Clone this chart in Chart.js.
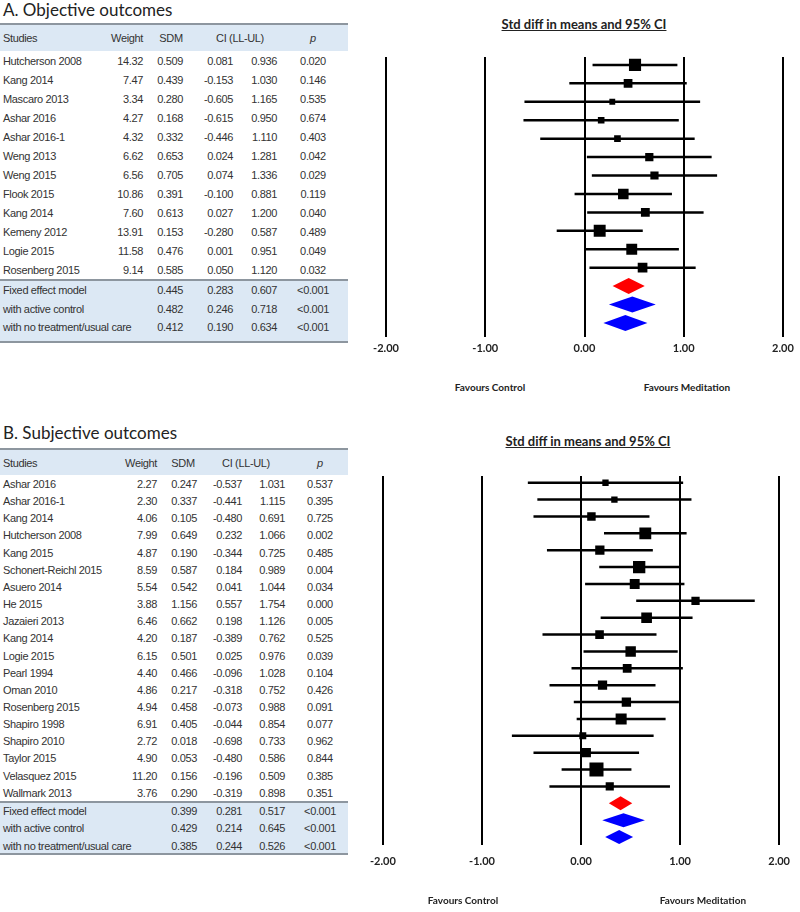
<!DOCTYPE html>
<html>
<head>
<meta charset="utf-8">
<script src="https://cdn.jsdelivr.net/npm/chart.js@4.4.1/dist/chart.umd.min.js"></script>
<style>
  body { margin: 0; background: #fff; }
  #page { position: relative; width: 800px; height: 912px; overflow: hidden; font-family: "Liberation Sans", Arial, sans-serif; }
  .t { position: absolute; white-space: nowrap; }
  .panel-title { font-family: Lato, "Noto Sans", sans-serif; font-size: 17px; color: #222; }
  .cell { font-size: 11px; color: #333; letter-spacing: -0.35px; }
  .band { position: absolute; left: 0; width: 348px; background: #dce8f4; }
  .rule { position: absolute; left: 0; width: 348px; height: 2px; background: #8d969f; }
  .plot-title { font-family: Lato, sans-serif; font-weight: bold; font-size: 13px; color: #222; text-decoration: underline; }
  .favours { font-family: Lato, sans-serif; font-weight: bold; font-size: 10px; color: #222; }
  canvas { position: absolute; }
</style>
</head>
<body>
<div id="page">
  <canvas id="chartA" width="440" height="330" style="left:360px;top:45px"></canvas>
  <canvas id="chartB" width="440" height="440" style="left:360px;top:460px"></canvas>
</div>
<script>
// ---- A. Objective outcomes ----
const studiesA = ['Hutcherson 2008', 'Kang 2014', 'Mascaro 2013', 'Ashar 2016', 'Ashar 2016-1', 'Weng 2013',
  'Weng 2015', 'Flook 2015', 'Kang 2014', 'Kemeny 2012', 'Logie 2015', 'Rosenberg 2015'];
const weightA = [14.32, 7.47, 3.34, 4.27, 4.32, 6.62, 6.56, 10.86, 7.60, 13.91, 11.58, 9.14];
const sdmA = [0.509, 0.439, 0.280, 0.168, 0.332, 0.653, 0.705, 0.391, 0.613, 0.153, 0.476, 0.585];
const llA = [0.081, -0.153, -0.605, -0.615, -0.446, 0.024, 0.074, -0.100, 0.027, -0.280, 0.001, 0.050];
const ulA = [0.936, 1.030, 1.165, 0.950, 1.110, 1.281, 1.336, 0.881, 1.200, 0.587, 0.951, 1.120];
const pA = ['0.020', '0.146', '0.535', '0.674', '0.403', '0.042', '0.029', '0.119', '0.040', '0.489', '0.049', '0.032'];

const summaryLabels = ['Fixed effect model', 'with active control', 'with no treatment/usual care'];
const sumSdmA = [0.445, 0.482, 0.412];
const sumLlA = [0.283, 0.246, 0.190];
const sumUlA = [0.607, 0.718, 0.634];
const sumPA = ['<0.001', '<0.001', '<0.001'];

// ---- B. Subjective outcomes ----
const studiesB = ['Ashar 2016', 'Ashar 2016-1', 'Kang 2014', 'Hutcherson 2008', 'Kang 2015', 'Schonert-Reichl 2015',
  'Asuero 2014', 'He 2015', 'Jazaieri 2013', 'Kang 2014', 'Logie 2015', 'Pearl 1994', 'Oman 2010',
  'Rosenberg 2015', 'Shapiro 1998', 'Shapiro 2010', 'Taylor 2015', 'Velasquez 2015', 'Wallmark 2013'];
const weightB = [2.27, 2.30, 4.06, 7.99, 4.87, 8.59, 5.54, 3.88, 6.46, 4.20, 6.15, 4.40, 4.86, 4.94, 6.91, 2.72, 4.90, 11.20, 3.76];
const sdmB = [0.247, 0.337, 0.105, 0.649, 0.190, 0.587, 0.542, 1.156, 0.662, 0.187, 0.501, 0.466, 0.217, 0.458, 0.405, 0.018, 0.053, 0.156, 0.290];
const llB = [-0.537, -0.441, -0.480, 0.232, -0.344, 0.184, 0.041, 0.557, 0.198, -0.389, 0.025, -0.096, -0.318, -0.073, -0.044, -0.698, -0.480, -0.196, -0.319];
const ulB = [1.031, 1.115, 0.691, 1.066, 0.725, 0.989, 1.044, 1.754, 1.126, 0.762, 0.976, 1.028, 0.752, 0.988, 0.854, 0.733, 0.586, 0.509, 0.898];
const pB = ['0.537', '0.395', '0.725', '0.002', '0.485', '0.004', '0.034', '0.000', '0.005', '0.525', '0.039', '0.104', '0.426',
  '0.091', '0.077', '0.962', '0.844', '0.385', '0.351'];

const sumSdmB = [0.399, 0.429, 0.385];
const sumLlB = [0.281, 0.214, 0.244];
const sumUlB = [0.517, 0.645, 0.526];
const sumPB = ['<0.001', '<0.001', '<0.001'];

const xTicks = [-2, -1, 0, 1, 2];
const summaryColors = ['#ff0000', '#0000ff', '#0000ff'];

const page = document.getElementById('page');

// place a text at (x, y) with y as the vertical centre
function text(str, x, y, cls, align, extra) {
  const d = document.createElement('div');
  d.className = 't ' + cls;
  d.textContent = str;
  const tx = align === 'right' ? '-100%' : align === 'center' ? '-50%' : '0';
  d.style.left = x + 'px';
  d.style.top = y + 'px';
  d.style.transform = `translate(${tx}, -50%)`;
  if (extra) Object.assign(d.style, extra);
  page.appendChild(d);
  return d;
}

function box(cls, top, height) {
  const d = document.createElement('div');
  d.className = cls;
  d.style.top = top + 'px';
  if (height != null) d.style.height = height + 'px';
  page.appendChild(d);
}

function buildTable(t, d) {
  text(t.title, 3, t.titleY, 'panel-title', 'left');
  box('band', t.headerTop, t.headerBottom - t.headerTop);
  box('rule', t.headerTop);
  const hy = (t.headerTop + t.headerBottom) / 2 + 1;
  text('Studies', 3, hy, 'cell', 'left');
  text('Weight', t.cols.weight, hy, 'cell', 'right');
  text('SDM', t.cols.sdmHead, hy, 'cell', 'center');
  text('CI (LL-UL)', t.cols.ciHead, hy, 'cell', 'center');
  text('p', t.cols.p, hy, 'cell', 'center', { fontStyle: 'italic' });

  d.studies.forEach((s, i) => {
    const y = t.rowStart + i * t.rowStep;
    text(s, 3, y, 'cell', 'left');
    text(d.weight[i].toFixed(2), t.cols.weight, y, 'cell', 'right');
    text(d.sdm[i].toFixed(3), t.cols.sdm, y, 'cell', 'right');
    text(d.ll[i].toFixed(3), t.cols.ll, y, 'cell', 'right');
    text(d.ul[i].toFixed(3), t.cols.ul, y, 'cell', 'right');
    text(d.p[i], t.cols.p, y, 'cell', 'center');
  });

  box('band', t.sumTop, t.sumBottom - t.sumTop);
  box('rule', t.sumTop);
  box('rule', t.sumBottom - 2);
  summaryLabels.forEach((s, j) => {
    const y = t.sumRowStart + j * t.sumStep;
    text(s, 3, y, 'cell', 'left');
    text(d.sumSdm[j].toFixed(3), t.cols.sdm, y, 'cell', 'right');
    text(d.sumLl[j].toFixed(3), t.cols.ll, y, 'cell', 'right');
    text(d.sumUl[j].toFixed(3), t.cols.ul, y, 'cell', 'right');
    text(d.sumP[j], t.cols.p, y, 'cell', 'center');
  });

  text('Std diff in means and 95% CI', t.plotTitleX, t.plotTitleY, 'plot-title', 'center');
  text('Favours Control', t.favCtrlX, t.favY, 'favours', 'center');
  text('Favours Meditation', t.favMedX, t.favY, 'favours', 'center');
}

// summary diamonds drawn through the chart's own scales
function diamondPlugin(d, firstRow, half) {
  return {
    id: 'diamonds',
    afterDatasetsDraw(chart) {
      const { ctx, scales: { x, y } } = chart;
      d.sumSdm.forEach((v, j) => {
        const cy = y.getPixelForValue(firstRow + j);
        ctx.save();
        ctx.beginPath();
        ctx.moveTo(x.getPixelForValue(d.sumLl[j]), cy);
        ctx.lineTo(x.getPixelForValue(v), cy - half);
        ctx.lineTo(x.getPixelForValue(d.sumUl[j]), cy);
        ctx.lineTo(x.getPixelForValue(v), cy + half);
        ctx.closePath();
        ctx.fillStyle = summaryColors[j];
        ctx.fill();
        ctx.restore();
      });
    }
  };
}

function forestChart(id, d, o) {
  const n = d.studies.length;
  const ciSets = d.sdm.map((_, i) => ({
    data: [{ x: d.ll[i], y: i }, { x: d.ul[i], y: i }],
    showLine: true,
    borderColor: '#000',
    borderWidth: 2.5,
    pointRadius: 0
  }));
  const squares = {
    data: d.sdm.map((v, i) => ({ x: v, y: i })),
    pointStyle: 'rect',
    pointRadius: d.weight.map(w => o.squareScale * Math.sqrt(w) / Math.SQRT2),
    backgroundColor: '#000',
    borderWidth: 0
  };

  return new Chart(document.getElementById(id), {
    type: 'scatter',
    data: { datasets: [...ciSets, squares] },
    options: {
      responsive: false,
      animation: false,
      layout: { padding: o.padding },
      plugins: { legend: { display: false }, tooltip: { enabled: false } },
      scales: {
        x: {
          type: 'linear',
          min: xTicks[0],
          max: xTicks[xTicks.length - 1],
          afterBuildTicks: scale => { scale.ticks = xTicks.map(v => ({ value: v })); },
          ticks: {
            padding: o.tickPad,
            color: '#222',
            font: { family: 'Lato', weight: 'bold', size: 11 },
            callback: v => v.toFixed(2)
          },
          grid: { color: '#000', lineWidth: 2, drawTicks: false },
          border: { display: false }
        },
        y: {
          type: 'linear',
          display: false,
          reverse: true,
          min: o.yMin,
          max: n + 2 + o.yMaxExtra
        }
      }
    },
    plugins: [diamondPlugin(d, n, o.half)]
  });
}

const dataA = { studies: studiesA, weight: weightA, sdm: sdmA, ll: llA, ul: ulA, p: pA,
  sumSdm: sumSdmA, sumLl: sumLlA, sumUl: sumUlA, sumP: sumPA };
const dataB = { studies: studiesB, weight: weightB, sdm: sdmB, ll: llB, ul: ulB, p: pB,
  sumSdm: sumSdmB, sumLl: sumLlB, sumUl: sumUlB, sumP: sumPB };

buildTable({
  title: 'A. Objective outcomes', titleY: 9,
  headerTop: 23, headerBottom: 51, rowStart: 61, rowStep: 19,
  sumTop: 279, sumBottom: 343, sumRowStart: 290, sumStep: 18.7,
  cols: { weight: 143, sdm: 183, sdmHead: 171, ll: 233, ul: 277, ciHead: 240, p: 313 },
  plotTitleX: 584, plotTitleY: 24, favCtrlX: 490, favMedX: 687, favY: 387
}, dataA);

buildTable({
  title: 'B. Subjective outcomes', titleY: 432,
  headerTop: 448, headerBottom: 475, rowStart: 484, rowStep: 17.15,
  sumTop: 801, sumBottom: 855, sumRowStart: 810.5, sumStep: 17.7,
  cols: { weight: 157, sdm: 197, sdmHead: 183, ll: 242, ul: 285, ciHead: 246, p: 320 },
  plotTitleX: 588, plotTitleY: 441, favCtrlX: 463, favMedX: 703, favY: 900
}, dataB);

forestChart('chartA', dataA, {
  squareScale: 3.2, half: 8, tickPad: 5, yMin: -0.43, yMaxExtra: 0.75,
  padding: { top: 12, left: 26, right: 17, bottom: 15 }
});

forestChart('chartB', dataB, {
  squareScale: 4.2, half: 7, tickPad: 10, yMin: -0.4, yMaxExtra: 0.46,
  padding: { top: 16, left: 21, right: 18, bottom: 22 }
});
</script>
</body>
</html>
